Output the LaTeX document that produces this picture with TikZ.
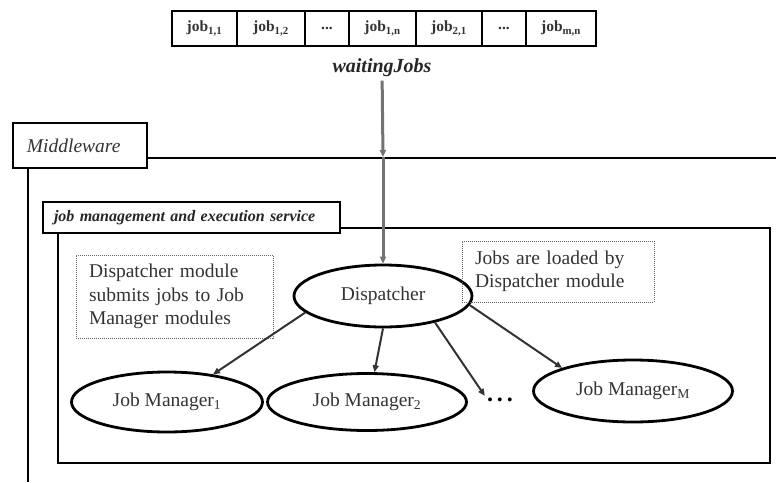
\documentclass[tikz,border=0pt]{standalone}
\usepackage{fontspec}
\setmainfont{Liberation Serif}
\usetikzlibrary{shapes.geometric,arrows.meta}

\begin{document}
\begin{tikzpicture}[x=1pt,y=-1pt,
  >={Triangle[length=7pt,width=6pt]},
  jobcell/.style={draw, line width=1.8pt, minimum height=35pt, inner sep=0pt, font=\fontsize{15.5}{18}\selectfont\bfseries, text=black!80},
  module/.style={draw, ellipse, line width=2.8pt, inner sep=0pt, font=\fontsize{19.5}{23.5}\selectfont, text=black!80},
  note/.style={draw=black!60, densely dotted, line width=1pt, inner xsep=13pt, inner ysep=0pt, align=left, font=\fontsize{19.5}{23.5}\selectfont, text=black!80},
  tab/.style={draw, fill=white, line width=2.2pt, inner xsep=12pt, inner ysep=0pt, align=left},
  frame/.style={line width=2.2pt},
  feed/.style={line width=3pt, black!55},
  submit/.style={line width=2pt, black!80}]
\useasboundingbox (0,0) rectangle (776,482);

\node[jobcell, minimum width=65pt] (q1) at (204.5, 28.5) {job\textsubscript{1,1}};
\node[jobcell, minimum width=68pt] (q2) at (271, 28.5) {job\textsubscript{1,2}};
\node[jobcell, minimum width=44pt] (q3) at (327, 28.5) {...};
\node[jobcell, minimum width=67pt] (q4) at (382.5, 28.5) {job\textsubscript{1,n}};
\node[jobcell, minimum width=66pt] (q5) at (449, 28.5) {job\textsubscript{2,1}};
\node[jobcell, minimum width=44pt] (q6) at (504, 28.5) {...};
\node[jobcell, minimum width=70pt] (q7) at (561, 28.5) {job\textsubscript{m,n}};
\node[font=\fontsize{20}{24}\selectfont\bfseries\itshape, text=black!85] (waiting) at (382, 68) {waitingJobs};

% middleware layer
\node[tab, minimum width=134pt, minimum height=45pt, text width=106pt, inner xsep=14pt, font=\fontsize{19.5}{23.5}\selectfont\itshape, text=black!80] (middleware) at (80, 145.5) {Middleware};
\coordinate (mwright) at (776, 158);
\coordinate (mwbottom) at (28, 482);
\draw[frame] (middleware.east |- mwright) -- (mwright);
\draw[frame] (middleware.south -| mwbottom) -- (mwbottom);

% job management and execution service
\draw[frame] (58, 228) rectangle (770, 463);
\node[tab, minimum width=297pt, minimum height=31pt, text width=275pt, inner xsep=11pt, font=\fontsize{16}{19}\selectfont\bfseries\itshape, text=black!85] (jobservice) at (191.5, 217.5) {job management and execution service};

\node[module, minimum width=178pt, minimum height=62pt] (dispatcher) at (383, 296) {Dispatcher};
\node[module, minimum width=191pt, minimum height=60pt] (jm1) at (167, 402) {Job Manager\textsubscript{1}};
\node[module, minimum width=199pt, minimum height=57pt] (jm2) at (367, 402) {Job Manager\textsubscript{2}};
\node[font=\fontsize{24}{28}\selectfont\bfseries, inner sep=2pt] (dots) at (500, 400) {.\,.\,.};
\node[module, minimum width=199pt, minimum height=62pt] (jmM) at (633, 391) {Job Manager\textsubscript{M}};

\node[note, minimum width=192pt, minimum height=61pt, text width=166pt] (noteload) at (558, 271.5) {Jobs are loaded by\\ Dispatcher module};
\node[note, minimum width=197pt, minimum height=83pt, text width=171pt] (notesubmit) at (174.5, 296.5) {Dispatcher module\\ submits jobs to Job\\ Manager modules};

\coordinate (mwarrow) at (383, 157);
\draw[feed,->] (waiting) -- (mwarrow);
\draw[feed,->] (mwarrow) -- (dispatcher);

\draw[submit,->] (dispatcher.192) -- (jm1.31);
\draw[submit,->] (dispatcher.south) -- (jm2.76);
\draw[submit,->] (dispatcher.333) -- (dots.north west);
\draw[submit,->] (dispatcher.354) -- (jmM.162);
\end{tikzpicture}
\end{document}
